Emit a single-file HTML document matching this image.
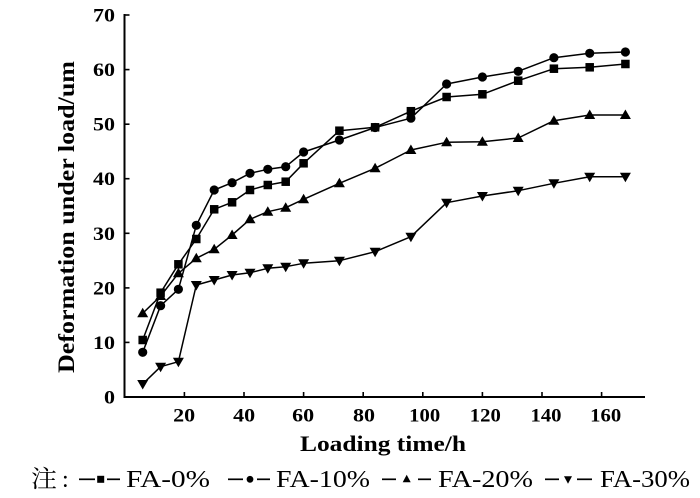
<!DOCTYPE html>
<html><head><meta charset="utf-8"><style>
html,body{margin:0;padding:0;background:#fff;}
svg{display:block;}
</style></head><body>
<svg width="700" height="498" viewBox="0 0 700 498" xmlns="http://www.w3.org/2000/svg" font-family="'Liberation Serif', 'Times New Roman', Times, serif">
<defs>
<marker id="sq" markerUnits="userSpaceOnUse" markerWidth="12" markerHeight="12" refX="6" refY="6" overflow="visible"><rect x="1.75" y="1.75" width="8.5" height="8.5" fill="#000"/></marker>
<marker id="ci" markerUnits="userSpaceOnUse" markerWidth="12" markerHeight="12" refX="6" refY="6" overflow="visible"><circle cx="6" cy="6" r="4.6" fill="#000"/></marker>
<marker id="tu" markerUnits="userSpaceOnUse" markerWidth="12" markerHeight="12" refX="6" refY="6" overflow="visible"><polygon points="6,0.5 0.5,10 11.5,10" fill="#000"/></marker>
<marker id="td" markerUnits="userSpaceOnUse" markerWidth="12" markerHeight="12" refX="6" refY="6" overflow="visible"><polygon points="6,11.5 0.5,2 11.5,2" fill="#000"/></marker>
</defs>

<!-- axes -->
<g stroke="#000" stroke-width="2" fill="none">
<line x1="124.5" y1="14" x2="124.5" y2="398"/>
<line x1="123.5" y1="397" x2="645" y2="397"/>
</g>
<g stroke="#000" stroke-width="1.6">
<line x1="124.5" y1="15" x2="129.5" y2="15"/>
<line x1="124.5" y1="69.6" x2="129.5" y2="69.6"/>
<line x1="124.5" y1="124.2" x2="129.5" y2="124.2"/>
<line x1="124.5" y1="178.7" x2="129.5" y2="178.7"/>
<line x1="124.5" y1="233.3" x2="129.5" y2="233.3"/>
<line x1="124.5" y1="287.9" x2="129.5" y2="287.9"/>
<line x1="124.5" y1="342.4" x2="129.5" y2="342.4"/>
<line x1="184.4" y1="397" x2="184.4" y2="392"/>
<line x1="244" y1="397" x2="244" y2="392"/>
<line x1="303.6" y1="397" x2="303.6" y2="392"/>
<line x1="363.2" y1="397" x2="363.2" y2="392"/>
<line x1="422.8" y1="397" x2="422.8" y2="392"/>
<line x1="482.4" y1="397" x2="482.4" y2="392"/>
<line x1="542" y1="397" x2="542" y2="392"/>
<line x1="601.6" y1="397" x2="601.6" y2="392"/>
</g>

<!-- y tick labels -->
<g font-size="19" font-weight="bold" text-anchor="end" fill="#000" font-family="'Liberation Serif', 'Times New Roman', Times, serif">
<text x="115" y="21.5" textLength="22" lengthAdjust="spacingAndGlyphs">70</text>
<text x="115" y="76.1" textLength="22" lengthAdjust="spacingAndGlyphs">60</text>
<text x="115" y="130.7" textLength="22" lengthAdjust="spacingAndGlyphs">50</text>
<text x="115" y="185.2" textLength="22" lengthAdjust="spacingAndGlyphs">40</text>
<text x="115" y="239.8" textLength="22" lengthAdjust="spacingAndGlyphs">30</text>
<text x="115" y="294.4" textLength="22" lengthAdjust="spacingAndGlyphs">20</text>
<text x="115" y="348.9" textLength="22" lengthAdjust="spacingAndGlyphs">10</text>
<text x="115" y="403.5" textLength="11" lengthAdjust="spacingAndGlyphs">0</text>
</g>
<!-- x tick labels -->
<g font-size="19" font-weight="bold" text-anchor="middle" fill="#000" font-family="'Liberation Serif', 'Times New Roman', Times, serif">
<text x="184.2" y="421.5" textLength="22" lengthAdjust="spacingAndGlyphs">20</text>
<text x="244.2" y="421.5" textLength="22" lengthAdjust="spacingAndGlyphs">40</text>
<text x="303.2" y="421.5" textLength="22" lengthAdjust="spacingAndGlyphs">60</text>
<text x="364" y="421.5" textLength="22" lengthAdjust="spacingAndGlyphs">80</text>
<text x="424.7" y="421.5" textLength="31" lengthAdjust="spacingAndGlyphs">100</text>
<text x="485.3" y="421.5" textLength="31" lengthAdjust="spacingAndGlyphs">120</text>
<text x="546" y="421.5" textLength="31" lengthAdjust="spacingAndGlyphs">140</text>
<text x="605.7" y="421.5" textLength="31" lengthAdjust="spacingAndGlyphs">160</text>
</g>

<!-- axis titles -->
<text x="300" y="451" font-size="22" font-weight="bold" fill="#000" font-family="'Liberation Serif', 'Times New Roman', Times, serif" textLength="166" lengthAdjust="spacingAndGlyphs">Loading time/h</text>
<text transform="translate(74,373) rotate(-90)" x="0" y="0" font-size="23" font-weight="bold" fill="#000" font-family="'Liberation Serif', 'Times New Roman', Times, serif" textLength="312" lengthAdjust="spacingAndGlyphs">Deformation under load/um</text>

<!-- series -->
<g fill="none" stroke="#000" stroke-width="1.5" stroke-linejoin="round">
<polyline marker-start="url(#sq)" marker-mid="url(#sq)" marker-end="url(#sq)" points="142.7,340 160.6,292.7 178.4,264.3 196.3,239 214.2,209.3 232.1,202.3 250,190 267.8,185 285.7,181.7 303.6,163.3 339.4,130.7 375.1,127.3 410.9,111.2 446.6,97 482.4,94.3 518.2,80.7 553.9,68.7 589.7,67.3 625.4,64"/>
<polyline marker-start="url(#ci)" marker-mid="url(#ci)" marker-end="url(#ci)" points="142.7,352.3 160.6,305.7 178.4,289.3 196.3,225.3 214.2,190 232.1,182.7 250,173.3 267.8,169.3 285.7,166.7 303.6,152 339.4,140 375.1,127.5 410.9,118.2 446.6,84 482.4,77 518.2,71.3 553.9,57.7 589.7,53.3 625.4,52"/>
<polyline marker-start="url(#tu)" marker-mid="url(#tu)" marker-end="url(#tu)" points="142.7,313.3 160.6,296 178.4,273.3 196.3,258.3 214.2,249.3 232.1,235 250,219.3 267.8,211.7 285.7,207.7 303.6,199.3 339.4,183.3 375.1,168.3 410.9,150 446.6,142.3 482.4,141.7 518.2,138 553.9,120.7 589.7,115 625.4,115"/>
<polyline marker-start="url(#td)" marker-mid="url(#td)" marker-end="url(#td)" points="142.7,384 160.6,366.7 178.4,361.7 196.3,285 214.2,280 232.1,275 250,272.7 267.8,268.3 285.7,266.7 303.6,263.3 339.4,260.7 375.1,251.7 410.9,236.7 446.6,202.7 482.4,196 518.2,190.7 553.9,183.3 589.7,176.7 625.4,176.7"/>
</g>

<!-- legend -->
<text x="31" y="487" font-size="24" fill="#000" font-family="'Noto Serif CJK SC', 'Noto Sans CJK SC', serif" textLength="26" lengthAdjust="spacingAndGlyphs">注</text>
<text x="62" y="487" font-size="24" fill="#000" font-family="'Liberation Serif', serif">:</text>
<g stroke="#000" stroke-width="1.7">
<line x1="79" y1="479.3" x2="95" y2="479.3"/>
<line x1="107" y1="479.3" x2="120" y2="479.3"/>
<line x1="228" y1="479.3" x2="243" y2="479.3"/>
<line x1="257" y1="479.3" x2="270" y2="479.3"/>
<line x1="382" y1="479.3" x2="396" y2="479.3"/>
<line x1="418" y1="479.3" x2="431" y2="479.3"/>
<line x1="545" y1="479.3" x2="559" y2="479.3"/>
<line x1="577" y1="479.3" x2="592" y2="479.3"/>
</g>
<rect x="97.2" y="475.8" width="7" height="7" fill="#000"/>
<circle cx="250" cy="479.3" r="3.4" fill="#000"/>
<polygon points="406.7,474.8 402.7,482.3 410.7,482.3" fill="#000"/>
<polygon points="568,483.8 564,476.3 572,476.3" fill="#000"/>
<g font-size="24" fill="#000" font-family="'Liberation Serif', 'Times New Roman', Times, serif">
<text x="126" y="487" textLength="84" lengthAdjust="spacingAndGlyphs">FA-0%</text>
<text x="276" y="487" textLength="94" lengthAdjust="spacingAndGlyphs">FA-10%</text>
<text x="438" y="487" textLength="95" lengthAdjust="spacingAndGlyphs">FA-20%</text>
<text x="600" y="487" textLength="90" lengthAdjust="spacingAndGlyphs">FA-30%</text>
</g>
</svg>
</body></html>
